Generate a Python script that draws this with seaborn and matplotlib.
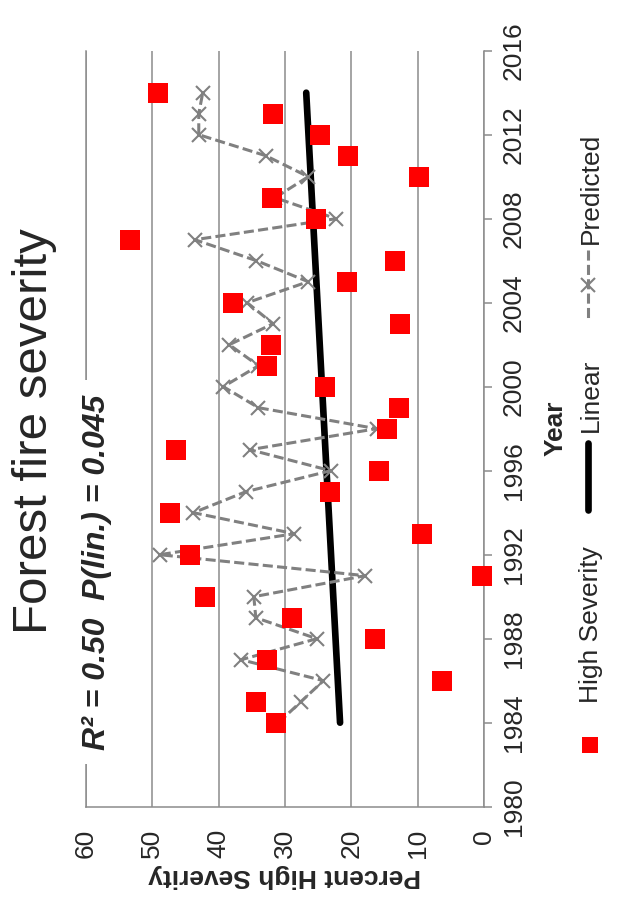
import numpy as np
import pandas as pd
import seaborn as sns
import matplotlib.pyplot as plt
from matplotlib.lines import Line2D

# data
years = list(range(1984, 2015))
high_severity = [31.3, 34.3, 6.3, 32.7, 16.5, 28.9, 42.0, 0.3, 44.3, 9.3,
                 47.3, 23.2, 15.9, 46.4, 14.6, 12.8, 23.9, 32.7, 32.1, 12.6,
                 37.9, 20.7, 13.4, 53.4, 25.4, 31.9, 9.8, 20.5, 24.7, 31.8, 49.2]
predicted = [31.0, 27.6, 24.2, 36.6, 25.2, 34.4, 34.7, 17.9, 48.9, 28.6,
             43.8, 35.9, 23.1, 35.3, 16.2, 34.0, 39.3, 34.0, 38.4, 31.8,
             35.7, 26.5, 34.3, 43.6, 22.3, 31.5, 26.5, 32.9, 43.0, 43.0, 42.4]
linear_years = [1984, 2014]
linear_vals = [21.7, 26.8]
year_ticks = list(range(1980, 2017, 4))
pct_ticks = [0, 10, 20, 30, 40, 50, 60]

title = "Forest fire severity"
stats_text = "R² = 0.50  P(lin.) = 0.045"
legend_labels = ["High Severity", "Linear", "Predicted"]

df = pd.DataFrame({"year": years, "high": high_severity, "pred": predicted})
df_lin = pd.DataFrame({"year": linear_years, "lin": linear_vals})

sns.set_style("white")
plt.rcParams['font.family'] = ['Liberation Sans', 'DejaVu Sans']

W, H = 621, 909
GRID = '#8c8c8c'
PRED = '#808080'
fig = plt.figure(figsize=(W / 100, H / 100), dpi=100)
# chart is drawn turned a quarter turn: percent runs right-to-left, years bottom-to-top
ax = fig.add_axes([86 / W, 1 - 806.7 / H, (484 - 86) / W, (806.7 - 50.7) / H])

sns.lineplot(data=df_lin, x="lin", y="year", orient="y", color="black",
             lw=4.8, solid_capstyle="round", errorbar=None, ax=ax, zorder=2)
sns.lineplot(data=df, x="pred", y="year", orient="y", color=PRED,
             lw=2.2, linestyle=(0, (3.3, 1.4)), marker="x", markersize=9.5,
             markeredgewidth=1.5, markeredgecolor=PRED, errorbar=None,
             ax=ax, zorder=3)
sns.scatterplot(data=df, x="high", y="year", marker="s", s=188, color="#ff0000",
                linewidth=0, ax=ax, zorder=4, clip_on=False)

ax.set_xlim(60, 0)
ax.set_ylim(1980, 2016)
ax.set_xticks(pct_ticks)
ax.set_yticks(year_ticks)
ax.set_xlabel("")
ax.set_ylabel("")
ax.yaxis.tick_right()
ax.grid(axis="x", color=GRID, lw=1.1)
ax.grid(axis="y", visible=False)
ax.set_axisbelow(True)
ax.spines["top"].set_visible(False)
for s in ["left", "bottom", "right"]:
    ax.spines[s].set_color(GRID)
    ax.spines[s].set_linewidth(1.1)

ax.tick_params(axis="x", direction="out", length=4.5, width=1.1, color=GRID,
               pad=11.5, labelsize=19, labelrotation=90)
ax.tick_params(axis="y", left=False, right=True, direction="out", length=6,
               width=1.1, color=GRID, pad=7, labelsize=19, labelrotation=90)
for lab in ax.get_yticklabels():
    lab.set_va("center")


def ftext(px, py, s, **kw):
    return fig.text(px / W, 1 - py / H, s, rotation_mode="anchor", **kw)


ftext(105, 572, stats_text, rotation=90, ha="center", va="baseline",
      fontsize=23, fontweight="bold", fontstyle="italic",
      bbox=dict(boxstyle="square,pad=0.45", fc="white", ec="none"))
ftext(47, 431, title, rotation=90, ha="center", va="baseline", fontsize=35.5)
ftext(285, 869, "Percent High Severity", rotation=180, ha="center",
      va="baseline", fontsize=19, fontweight="bold")
ftext(563, 428, "Year", rotation=90, ha="center", va="baseline",
      fontsize=19, fontweight="bold")

# hand-made legend, turned like the rest
fig.add_artist(Line2D([590 / W], [1 - 745 / H], marker="s", ms=11.5, mew=0,
                      color="#ff0000", ls="none", transform=fig.transFigure))
fig.add_artist(Line2D([588 / W, 588 / W], [1 - 443 / H, 1 - 510 / H], lw=4.8,
                      color="black", solid_capstyle="round",
                      transform=fig.transFigure))
fig.add_artist(Line2D([588 / W] * 3, [1 - 250 / H, 1 - 285 / H, 1 - 320 / H],
                      lw=2.2, color=PRED, ls=(0, (3.3, 1.4)), marker="x",
                      markevery=[1], ms=9.5, mew=1.5, transform=fig.transFigure))
for lab, yc in zip(legend_labels, [625, 395, 188]):
    ftext(598, yc, lab, rotation=90, ha="center", va="baseline", fontsize=19)

fig.savefig("out.png", dpi=100)
